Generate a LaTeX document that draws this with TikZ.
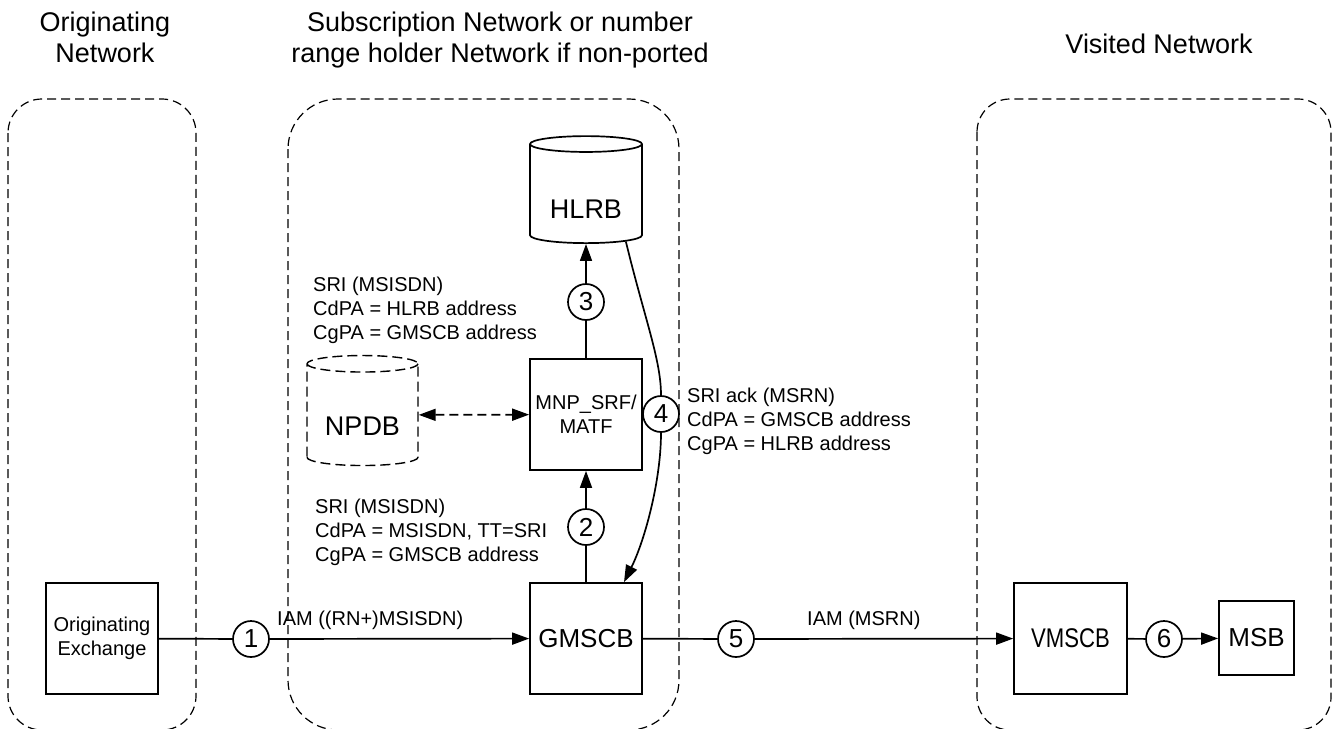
\documentclass[tikz,border=0pt]{standalone}
\usepackage{fontspec}
\setmainfont{Liberation Sans}
\newfontfamily\narrowsans[FakeStretch=0.82]{Liberation Sans}
\usetikzlibrary{shapes.geometric, arrows.meta, positioning}

\begin{document}
\begin{tikzpicture}[x=1pt, y=-1pt,
			box/.style = {draw, line width=1.7pt, minimum width=112pt,
				minimum height=111pt, inner sep=0pt},
			db/.style = {cylinder, shape border rotate=90, aspect=0.22, draw,
				line width=1.7pt, minimum width=112pt, minimum height=107pt,
				inner sep=0pt, font=\fontsize{27}{30}\selectfont},
			num/.style = {circle, draw, line width=1.7pt, minimum size=36pt,
				inner sep=0pt, font=\fontsize{26}{26}\selectfont},
			net/.style = {draw, line width=1.2pt, dash pattern=on 9pt off 5pt},
			msg/.style = {align=left, anchor=north west, inner sep=0pt,
				font=\fontsize{20}{24}\selectfont},
			title/.style = {align=center, inner sep=0pt,
				font=\fontsize{27}{31}\selectfont},
			link/.style = {line width=1.7pt},
			arr/.style = {line width=1.7pt, -{Triangle[length=17pt, width=12pt]}}
			]
			\useasboundingbox (0,0) rectangle (1338,728);
			% network areas
			\draw [net, rounded corners=34pt] (8,99) rectangle (196,730);
			\draw [net, rounded corners=50pt] (288,99) rectangle (679,730);
			\draw [net, rounded corners=33pt] (977,99) rectangle (1331,730);
			\node (tOrig) [title, anchor=north] at (105,12) {Originating\\Network};
			\node (tSub) [title, anchor=north] at (500,12) {Subscription Network or number\\range holder Network if non-ported};
			\node (tVis) [title, anchor=base] at (1159,53) {Visited Network};
			% elements
			\node (orig) [box, align=center, font=\fontsize{20}{24}\selectfont] at (102,638.5) {Originating\\Exchange};
			\node (gmscb) [box, font=\fontsize{26}{30}\selectfont] at (586,638.5) {GMSCB};
			\node (vmscb) [box, minimum width=113pt, font=\narrowsans\fontsize{27}{30}\selectfont] at (1070.5,638.5) {VMSCB};
			\node (msb) [box, minimum width=75pt, minimum height=74pt, font=\fontsize{26}{30}\selectfont] at (1256.5,638) {MSB};
			\node (mnp) [box, align=center, font=\fontsize{20}{24}\selectfont] at (586,414.5) {MNP\_SRF/\\MATF};
			\node (hlrb) [db, text height=48pt, text depth=0pt] at (586,194) {HLRB};
			\node (npdb) [db, dash pattern=on 10pt off 5pt, line width=1.4pt, minimum width=111pt,
				minimum height=110pt, text height=40pt, text depth=0pt] at (362.5,415) {NPDB};
			% steps
			\node (c1) [num] at (251,639) {1};
			\node (c2) [num] at (586,527) {2};
			\node (c3) [num] at (586,302) {3};
			\node (c4) [num] at (661,414) {4};
			\node (c5) [num] at (736,639) {5};
			\node (c6) [num] at (1164,639) {6};
			% messages
			\node (m3) [msg] at (313,276.5) {SRI (MSISDN)\\CdPA = HLRB address\\CgPA = GMSCB address};
			\node (m2) [msg] at (315,498.5) {SRI (MSISDN)\\CdPA = MSISDN, TT=SRI\\CgPA = GMSCB address};
			\node (m4) [msg] at (687,387.5) {SRI ack (MSRN)\\CdPA = GMSCB address\\CgPA = HLRB address};
			\node (iam1) [anchor=base west, inner sep=0pt, font=\fontsize{20}{24}\selectfont] at (277,625) {IAM ((RN+)MSISDN)};
			\node (iam2) [anchor=base west, inner sep=0pt, font=\fontsize{20}{24}\selectfont] at (807,625) {IAM (MSRN)};
			% connectors
			\draw [link] (orig) -- (c1);
			\draw [arr] (c1) -- (gmscb);
			\draw [link] (gmscb) -- (c5);
			\draw [arr] (c5) -- (vmscb);
			\draw [link] (vmscb) -- (c6);
			\draw [arr] (c6) -- (msb);
			\draw [link] (gmscb) -- (c2);
			\draw [arr] (c2) -- (mnp);
			\draw [link] (mnp) -- (c3);
			\draw [arr] (c3) -- (hlrb);
			\draw [line width=1.7pt, dash pattern=on 9pt off 5pt,
				{Triangle[length=17pt, width=12pt]}-{Triangle[length=17pt, width=12pt]}] (npdb) -- (mnp);
			\draw [link] (hlrb.-50) .. controls (645,320) and (661,360) .. (c4);
			\draw [arr] (c4) .. controls (661,480) and (645,540) .. ([xshift=38pt]gmscb.north);
		\end{tikzpicture}
\end{document}
